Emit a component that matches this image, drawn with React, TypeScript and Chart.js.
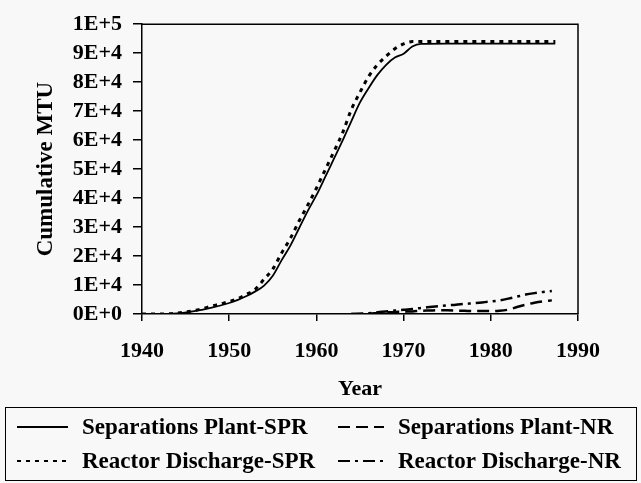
import { useEffect, useRef } from 'react';
import { Chart, registerables } from 'chart.js';

Chart.register(...registerables);

const FONT = "'Liberation Serif', 'Times New Roman', serif";
const BG = '#f8f8f8';
const INK = '#000000';

// Years for the SPR curves
const sprYears = [1940, 1942, 1944, 1946, 1948, 1950, 1951, 1952, 1953, 1954, 1955, 1956, 1957, 1958, 1959, 1960, 1961, 1962, 1963, 1964, 1965, 1966, 1967, 1968, 1969, 1970, 1971, 1972, 1975, 1980, 1985, 1987.4];
const sepPlantSPR = [0, 0, 200, 1000, 2200, 3800, 4900, 6200, 7800, 9800, 13200, 18500, 23500, 29500, 35500, 41000, 47200, 53500, 59800, 66500, 73000, 78000, 82500, 86000, 88500, 89800, 92300, 93200, 93300, 93300, 93300, 93300];
const reactorSPR = [0, 0, 300, 1200, 2700, 4300, 5300, 6800, 8600, 12000, 15500, 21000, 26000, 32000, 37500, 43400, 49700, 56000, 62500, 70500, 76500, 82000, 86000, 89000, 91500, 93200, 94000, 94000, 94000, 94000, 94000, 94000];

// Years for the NR curves
const nrYears = [1964, 1965, 1966, 1967, 1968, 1969, 1970, 1971, 1972, 1973, 1974, 1975, 1976, 1977, 1978, 1979, 1980, 1981, 1982, 1983, 1984, 1985, 1986, 1987];
const sepPlantNR = [0, 0, 100, 300, 500, 700, 800, 900, 1100, 1200, 1300, 1300, 1200, 1100, 1000, 1000, 1000, 1100, 1500, 2400, 3200, 3900, 4400, 4700];
const reactorNR = [0, 100, 300, 600, 900, 1200, 1500, 1700, 2100, 2400, 2700, 3000, 3200, 3500, 3700, 4000, 4300, 4700, 5300, 6000, 6700, 7200, 7600, 7900];

const seriesLabels = ['Separations Plant-SPR', 'Reactor Discharge-SPR', 'Separations Plant-NR', 'Reactor Discharge-NR'];

const xTicks = [1940, 1950, 1960, 1970, 1980, 1990];
const yTickMax = 100000;
const yTickStep = 10000;

function fmtSci(v: number): string {
  if (v === 0) return '0E+0';
  const e = Math.floor(Math.log10(v) + 1e-9);
  const m = Math.round(v / Math.pow(10, e));
  return `${m}E+${e}`;
}

function toPts(xs: number[], ys: number[]) {
  return xs.map((x, i) => ({ x, y: ys[i] }));
}

const bgPlugin = {
  id: 'bgFill',
  beforeDraw(chart: any) {
    const { ctx, width, height } = chart;
    ctx.save();
    ctx.fillStyle = BG;
    ctx.fillRect(0, 0, width, height);
    ctx.restore();
  },
};

const framePlugin = {
  id: 'frameBox',
  afterDraw(chart: any) {
    const { ctx, chartArea: a } = chart;
    ctx.save();
    ctx.strokeStyle = INK;
    ctx.lineWidth = 1.5;
    ctx.beginPath();
    ctx.moveTo(a.left, a.top);
    ctx.lineTo(a.right, a.top);
    ctx.lineTo(a.right, a.bottom);
    ctx.stroke();
    ctx.restore();
  },
};

const legendPlugin = {
  id: 'boxLegend',
  afterDraw(chart: any) {
    const { ctx } = chart;
    ctx.save();
    ctx.strokeStyle = INK;
    ctx.lineWidth = 1;
    ctx.strokeRect(5.5, 407.5, 631, 73);
    const layout = [
      { ds: 0, lx0: 17, lx1: 68, tx: 82, y: 427 },
      { ds: 2, lx0: 338, lx1: 384, tx: 398, y: 427 },
      { ds: 1, lx0: 17, lx1: 68, tx: 82, y: 461 },
      { ds: 3, lx0: 338, lx1: 384, tx: 398, y: 461 },
    ];
    ctx.font = `bold 23px ${FONT}`;
    ctx.textBaseline = 'middle';
    ctx.textAlign = 'left';
    ctx.fillStyle = INK;
    layout.forEach((it) => {
      const d = chart.data.datasets[it.ds];
      ctx.save();
      ctx.setLineDash(d.borderDash || []);
      ctx.lineWidth = Math.min(d.borderWidth, 2);
      ctx.strokeStyle = d.borderColor;
      ctx.beginPath();
      ctx.moveTo(it.lx0, it.y);
      ctx.lineTo(it.lx1, it.y);
      ctx.stroke();
      ctx.restore();
      ctx.fillText(d.label, it.tx, it.y + 1);
    });
    ctx.restore();
  },
};

export default function App() {
  const ref = useRef<HTMLCanvasElement>(null);
  useEffect(() => {
    document.body.style.margin = '0';
    document.body.style.background = BG;
    const chart = new Chart(ref.current!, {
      type: 'line',
      data: {
        datasets: [
          {
            label: seriesLabels[0],
            data: toPts(sprYears, sepPlantSPR),
            borderColor: INK,
            borderWidth: 1.8,
            borderDash: [],
          },
          {
            label: seriesLabels[1],
            data: toPts(sprYears, reactorSPR),
            borderColor: INK,
            borderWidth: 3,
            borderDash: [4, 5],
          },
          {
            label: seriesLabels[2],
            data: toPts(nrYears, sepPlantNR),
            borderColor: INK,
            borderWidth: 2.5,
            borderDash: [12, 6],
          },
          {
            label: seriesLabels[3],
            data: toPts(nrYears, reactorNR),
            borderColor: INK,
            borderWidth: 2.5,
            borderDash: [12, 5, 3, 5],
          },
        ] as any,
      },
      options: {
        animation: false,
        responsive: false,
        parsing: false as any,
        layout: { padding: { top: 15, right: 63, left: 0, bottom: 0 } },
        elements: {
          point: { radius: 0 },
          line: { cubicInterpolationMode: 'monotone', fill: false },
        },
        plugins: {
          legend: { display: false },
          tooltip: { enabled: false },
        },
        scales: {
          x: {
            type: 'linear',
            min: xTicks[0],
            max: xTicks[xTicks.length - 1],
            afterBuildTicks: (s: any) => {
              s.ticks = xTicks.map((v) => ({ value: v }));
            },
            afterFit: (s: any) => {
              s.height = 169;
            },
            ticks: {
              color: INK,
              font: { family: FONT, size: 22, weight: 'bold' },
              padding: 17,
              maxRotation: 0,
              autoSkip: false,
              callback: (v: any) => String(v),
            },
            grid: { drawOnChartArea: false, drawTicks: true, tickLength: 7, color: INK, lineWidth: 1.5 },
            border: { display: true, color: INK, width: 1.5 },
            title: {
              display: true,
              text: 'Year',
              color: INK,
              font: { family: FONT, size: 22, weight: 'bold' },
              padding: { top: 4, bottom: 80 },
            },
          },
          y: {
            type: 'linear',
            min: 0,
            max: yTickMax,
            afterBuildTicks: (s: any) => {
              const t = [];
              for (let v = 0; v <= yTickMax; v += yTickStep) t.push({ value: v });
              s.ticks = t;
            },
            afterFit: (s: any) => {
              s.width = 142;
            },
            ticks: {
              color: INK,
              autoSkip: false,
              font: { family: FONT, size: 22, weight: 'bold' },
              padding: 11,
              callback: (v: any) => fmtSci(Number(v)),
            },
            grid: { drawOnChartArea: false, drawTicks: true, tickLength: 9, color: INK, lineWidth: 1.5 },
            border: { display: true, color: INK, width: 1.5 },
            title: {
              display: true,
              text: 'Cumulative MTU',
              color: INK,
              font: { family: FONT, size: 23, weight: 'bold' },
              padding: { top: 32, bottom: 0 },
            },
          },
        },
      } as any,
      plugins: [bgPlugin, framePlugin, legendPlugin],
    });
    return () => chart.destroy();
  }, []);
  return (
    <div style={{ width: 641, height: 483 }}>
      <canvas ref={ref} width={641} height={483} style={{ display: 'block' }} />
    </div>
  );
}
